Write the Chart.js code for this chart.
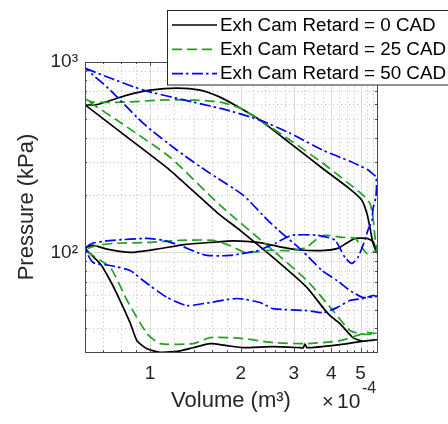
<!DOCTYPE html>
<html>
<head>
<meta charset="utf-8">
<script src="https://cdn.jsdelivr.net/npm/chart.js@4.4.1/dist/chart.umd.min.js"></script>
<style>
  html, body { margin: 0; padding: 0; background: #fff; }
</style>
</head>
<body>
<canvas id="pvChart" width="448" height="424"></canvas>
<script>
// volume in 1e-4 m^3, pressure in kPa
var seriesLabels = ["Exh Cam Retard = 0 CAD", "Exh Cam Retard = 25 CAD", "Exh Cam Retard = 50 CAD"];

// 0 CAD: expansion, exhaust, intake, compression
var vol0 = [0.61, 0.667, 0.839, 1.0, 1.229, 1.466, 1.707, 1.99, 2.318, 2.915, 3.752, 4.612, 5.05, 5.25, 5.373, 5.498, 5.65,
  5.5, 5.25, 4.8, 4.5, 4.2, 3.8, 3.15, 2.7, 2.28, 1.9, 1.6, 1.3, 1.05, 0.86, 0.72, 0.647, 0.61,
  0.682, 0.737, 0.795, 0.858, 0.905, 0.977, 1.08, 1.229, 1.389, 1.582, 1.8, 2.036, 2.56, 3.15, 3.22, 3.27, 3.32, 4.272, 4.977, 5.65,
  5.09, 4.72, 4.272, 3.958, 3.752, 3.32, 2.56, 1.99, 1.669, 1.165, 0.839, 0.61];
var pres0 = [594, 598, 670, 712, 730, 712, 654, 573, 495, 375, 275, 215, 188, 160, 135, 112, 100,
  114, 118.5, 118.5, 112, 105, 102.4, 103, 107, 112.9, 115, 113, 110, 104, 100, 104, 109, 105,
  87.5, 71.2, 55.9, 42.8, 34.4, 31.2, 29.9, 30.2, 31.6, 33.2, 32.4, 31.6, 32.0, 31.6, 31.5, 33.0, 31.6, 32.8, 34, 34.8,
  34.2, 35.7, 42.3, 46.6, 51.3, 65.4, 94.1, 130.6, 162, 270, 403, 594];

// 25 CAD
var vol25 = [0.61, 0.647, 0.839, 1.08, 1.389, 1.707, 1.99, 2.318, 2.915, 3.752, 4.507, 5.093, 5.373, 5.498, 5.584, 5.65,
  5.45, 5.25, 5.05, 4.8, 4.34, 3.81, 3.53, 3.3, 2.96, 2.46, 2.07, 1.84, 1.62, 1.26, 0.98, 0.754, 0.667, 0.61,
  0.737, 0.839, 0.977, 1.08, 1.389, 1.582, 2.036, 2.56, 3.32, 4.272, 4.864, 5.25, 5.65,
  5.17, 4.612, 4.05, 3.32, 2.56, 1.707, 1.165, 0.839, 0.61];
var pres25 = [638, 615, 616, 631, 631, 616, 573, 495, 389, 294, 234, 200, 181, 153, 120, 102,
  100, 98.8, 106, 118.5, 120, 122.9, 115.7, 106, 102.4, 102.4, 100, 108.8, 115.7, 115.7, 112.9, 111.5, 108.8, 103,
  83.5, 55.9, 37.5, 33.2, 33.2, 35.7, 35.3, 33.6, 33.2, 34.4, 36.6, 37.9, 37.5,
  37.1, 38.9, 49.5, 71.2, 102.4, 177, 316, 455, 638];

// 50 CAD
var vol50 = [0.61, 0.737, 0.948, 1.389, 1.801, 2.318, 2.915, 3.752, 4.612, 5.251, 5.456, 5.62,
  5.65, 5.62, 5.5, 5.456, 5.29, 5.17, 4.9, 4.68, 4.44, 4.11, 3.61, 2.96, 2.6, 2.28, 1.843, 1.546, 1.432, 1.258, 1.104, 0.977, 0.754, 0.647, 0.61,
  0.647, 0.737, 0.858, 0.948, 1.139, 1.327, 1.582, 1.944, 2.318, 2.56, 3.32, 3.752, 4.175, 4.612, 5.093, 5.498, 5.65,
  5.093, 4.612, 4.175, 3.724, 3.195, 2.742, 2.464, 2.036, 1.582, 1.229, 0.948, 0.737, 0.61];
var pres50 = [926, 824, 712, 616, 559, 495, 423, 344, 301, 273, 261, 250,
  225, 195, 170, 147, 131, 116, 94, 87.5, 94, 116, 123, 123, 111.5, 102.4, 96.4, 96.4, 100, 108.8, 115.7, 118.5, 115.7, 112, 105,
  88.6, 85.4, 80.4, 71.2, 58, 52.6, 54.6, 57.3, 54.6, 50.7, 49.5, 48.3, 51.3, 55.9, 57.3, 59.4, 58.8,
  58, 63.1, 71.2, 80.4, 102.4, 126, 147, 200, 260, 344, 477, 712, 926];

var xTickVals = [1, 2, 3, 4, 5];
var xMinorVals = [0.7, 0.8, 0.9, 1.2, 1.4, 1.6, 1.8, 2.2, 2.4, 2.6, 2.8, 3.25, 3.5, 3.75, 4.25, 4.5, 4.75, 5.25, 5.5];
var yTickVals = [100, 1000];
var yMinorVals = [40, 50, 60, 70, 80, 90, 200, 300, 400, 500, 600, 700, 800, 900];

var fontFam = '"Liberation Sans", Arial, Helvetica, sans-serif';
var axisColor = '#262626';

function toPoints(vols, pres) {
  return vols.map(function (v, i) { return { x: v, y: pres[i] }; });
}

// grid, box, inward ticks, exponent label and legend, MATLAB style
var matlabAxes = {
  id: 'matlabAxes',
  beforeDatasetsDraw: function (chart) {
    var ctx = chart.ctx, a = chart.chartArea, xs = chart.scales.x, ys = chart.scales.y;
    ctx.save();
    ctx.lineWidth = 1;
    ctx.strokeStyle = '#c2c2c2';
    ctx.setLineDash([1, 3]);
    xMinorVals.forEach(function (v) {
      var px = Math.round(xs.getPixelForValue(v)) + 0.5;
      ctx.beginPath(); ctx.moveTo(px, a.top); ctx.lineTo(px, a.bottom); ctx.stroke();
    });
    yMinorVals.forEach(function (v) {
      var py = Math.round(ys.getPixelForValue(v)) + 0.5;
      ctx.beginPath(); ctx.moveTo(a.left, py); ctx.lineTo(a.right, py); ctx.stroke();
    });
    ctx.setLineDash([]);
    ctx.strokeStyle = '#dcdcdc';
    xTickVals.forEach(function (v) {
      var px = Math.round(xs.getPixelForValue(v)) + 0.5;
      ctx.beginPath(); ctx.moveTo(px, a.top); ctx.lineTo(px, a.bottom); ctx.stroke();
    });
    yTickVals.forEach(function (v) {
      var py = Math.round(ys.getPixelForValue(v)) + 0.5;
      ctx.beginPath(); ctx.moveTo(a.left, py); ctx.lineTo(a.right, py); ctx.stroke();
    });
    ctx.restore();
  },
  afterDatasetsDraw: function (chart) {
    var ctx = chart.ctx, a = chart.chartArea, xs = chart.scales.x, ys = chart.scales.y;
    ctx.save();
    ctx.strokeStyle = '#4a4a4a';
    ctx.lineWidth = 1;
    ctx.strokeRect(Math.round(a.left) + 0.5, Math.round(a.top) + 0.5, Math.round(a.right - a.left), Math.round(a.bottom - a.top));
    function xTick(v, len) {
      var px = Math.round(xs.getPixelForValue(v)) + 0.5;
      ctx.beginPath();
      ctx.moveTo(px, a.bottom); ctx.lineTo(px, a.bottom - len);
      ctx.moveTo(px, a.top); ctx.lineTo(px, a.top + len);
      ctx.stroke();
    }
    function yTick(v, len) {
      var py = Math.round(ys.getPixelForValue(v)) + 0.5;
      ctx.beginPath();
      ctx.moveTo(a.left, py); ctx.lineTo(a.left + len, py);
      ctx.moveTo(a.right, py); ctx.lineTo(a.right - len, py);
      ctx.stroke();
    }
    xTickVals.forEach(function (v) { xTick(v, 4); });
    xMinorVals.forEach(function (v) { xTick(v, 2); });
    yTickVals.forEach(function (v) { yTick(v, 4); });
    yMinorVals.forEach(function (v) { yTick(v, 2); });

    // x10^-4 multiplier
    ctx.fillStyle = axisColor;
    ctx.textBaseline = 'alphabetic';
    ctx.textAlign = 'left';
    ctx.font = '20px ' + fontFam;
    ctx.fillText('\u00d7', 322, 408);
    ctx.font = '21px ' + fontFam;
    ctx.fillText('10', 337, 408.3);
    ctx.font = '16px ' + fontFam;
    ctx.fillText('-4', 362, 393.3);
    ctx.restore();
  },
  afterDraw: function (chart) {
    var ctx = chart.ctx;
    ctx.save();
    // legend box runs past the right edge, as in the reference
    ctx.fillStyle = '#fff';
    ctx.fillRect(167.5, 10.5, 290, 74.5);
    ctx.strokeStyle = axisColor;
    ctx.lineWidth = 1;
    ctx.strokeRect(167.5, 10.5, 290, 74.5);
    var rowsY = [25, 49.3, 73.6];
    chart.data.datasets.forEach(function (ds, i) {
      ctx.beginPath();
      ctx.setLineDash(ds.borderDash || []);
      ctx.strokeStyle = ds.borderColor;
      ctx.lineWidth = ds.borderWidth;
      ctx.moveTo(172, rowsY[i]);
      ctx.lineTo(217, rowsY[i]);
      ctx.stroke();
      ctx.setLineDash([]);
      ctx.fillStyle = '#000';
      ctx.font = '18.8px ' + fontFam;
      ctx.textBaseline = 'middle';
      ctx.textAlign = 'left';
      ctx.fillText(ds.label, 220, rowsY[i] + 0.5);
    });
    ctx.restore();
  }
};

var ctxP = document.getElementById("pvChart").getContext('2d');
var pvChart = new Chart(ctxP, {
  type: 'scatter',
  data: {
    datasets: [{
      label: seriesLabels[0],
      data: toPoints(vol0, pres0),
      borderColor: '#000000',
      borderWidth: 1.7,
      borderDash: [],
      order: 3
    }, {
      label: seriesLabels[1],
      data: toPoints(vol25, pres25),
      borderColor: 'rgb(34,160,34)',
      borderWidth: 1.7,
      borderDash: [10, 5],
      order: 2
    }, {
      label: seriesLabels[2],
      data: toPoints(vol50, pres50),
      borderColor: '#0000ff',
      borderWidth: 1.7,
      borderDash: [11, 3, 2.5, 3.5],
      order: 1
    }]
  },
  options: {
    responsive: false,
    animation: false,
    showLine: true,
    elements: {
      point: { radius: 0, hoverRadius: 0 },
      line: { tension: 0.2, fill: false }
    },
    layout: { padding: { left: 0, top: 62, right: 71, bottom: 0 } },
    plugins: {
      legend: { display: false },
      tooltip: { enabled: false }
    },
    scales: {
      x: {
        type: 'logarithmic',
        bounds: 'data',
        min: 0.608,
        max: 5.67,
        grid: { display: false, drawTicks: false },
        border: { display: false },
        afterBuildTicks: function (s) { s.ticks = xTickVals.map(function (v) { return { value: v }; }); },
        afterFit: function (s) { s.height = 72; },
        ticks: {
          autoSkip: false,
          maxRotation: 0,
          padding: 10,
          color: axisColor,
          font: { family: fontFam, size: 19 },
          callback: function (v) { return String(v); }
        },
        title: {
          display: true,
          text: 'Volume (m\u00b3)',
          color: axisColor,
          font: { family: fontFam, size: 22 },
          padding: { top: 0, bottom: 10 }
        }
      },
      y: {
        type: 'logarithmic',
        bounds: 'data',
        min: 30,
        max: 1000,
        grid: { display: false, drawTicks: false },
        border: { display: false },
        afterBuildTicks: function (s) { s.ticks = yTickVals.map(function (v) { return { value: v }; }); },
        afterFit: function (s) { s.width = 85; },
        ticks: {
          autoSkip: false,
          padding: 7,
          color: axisColor,
          font: { family: fontFam, size: 19 },
          callback: function (v) { return v === 1000 ? '10\u00b3' : (v === 100 ? '10\u00b2' : ''); }
        },
        title: {
          display: true,
          text: 'Pressure (kPa)',
          color: axisColor,
          font: { family: fontFam, size: 22 },
          padding: { top: 13.5, bottom: 0 }
        }
      }
    }
  },
  plugins: [matlabAxes]
});
</script>
</body>
</html>
